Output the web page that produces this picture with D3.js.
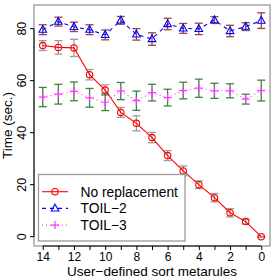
<!DOCTYPE html>
<html>
<head>
<meta charset="utf-8">
<script src="https://cdn.jsdelivr.net/npm/d3@7"></script>
<style>
  body { margin: 0; background: #fff; }
  text { font-family: "Liberation Sans", Arial, sans-serif; }
</style>
</head>
<body>
<svg id="chart" width="274" height="280"></svg>
<script>
/** x positions: number of user-defined sort metarules */
var metarules = [14, 13, 12, 11, 10, 9, 8, 7, 6, 5, 4, 3, 2, 1, 0];

/** No replacement: mean time and error */
var noReplMean = [73.5, 72.8, 72.6, 62.3, 56.4, 47.8, 43.6, 38.1, 31.2, 25.3, 20.0, 15.0, 9.2, 5.8, 0.0];
var noReplErr  = [1.9, 2.6, 3.3, 2.0, 2.0, 1.9, 2.9, 2.0, 1.9, 1.9, 1.5, 1.6, 1.6, 0.9, 0.2];

/** TOIL-2 */
var toil2Mean = [79.6, 82.7, 80.7, 79.6, 77.6, 83.2, 77.8, 76.0, 81.8, 80.1, 79.9, 83.3, 79.1, 80.8, 83.1];
var toil2Err  = [1.9, 1.7, 1.8, 1.9, 1.9, 1.5, 2.2, 2.4, 2.2, 1.9, 2.2, 1.3, 2.2, 1.5, 3.0];

/** TOIL-3 */
var toil3Mean = [53.7, 54.8, 55.9, 53.4, 51.7, 56.0, 52.3, 55.4, 53.5, 56.2, 57.1, 56.1, 56.1, 52.9, 56.2];
var toil3Err  = [3.7, 3.8, 3.6, 3.6, 3.2, 3.3, 3.7, 3.2, 3.2, 3.2, 3.5, 2.9, 2.7, 1.9, 4.0];

var yTicks = [0, 20, 40, 60, 80];
var xTickLabels = [14, 12, 10, 8, 6, 4, 2, 0];

var seriesNames = ['No replacement', 'TOIL\u22122', 'TOIL\u22123'];

var plotLeft = 34, plotRight = 270, plotTop = 5, plotBottom = 246;

var svg = d3.select('#chart');

var x = d3.scaleLinear().domain([14.56, -0.56]).range([plotLeft, plotRight]);
var y = d3.scaleLinear().domain([-3.58, 89.1]).range([plotBottom, plotTop]);

function rows(means, errs) {
    return metarules.map(function (m, i) {
        return { x: m, y: means[i], e: errs[i] };
    });
}

var series = [
    { name: seriesNames[0], data: rows(noReplMean, noReplErr), color: 'red', errColor: '#8c8c8c', dash: null, shape: 'circle' },
    { name: seriesNames[1], data: rows(toil2Mean, toil2Err), color: 'blue', errColor: '#8b2323', dash: '4,4', shape: 'triangle' },
    { name: seriesNames[2], data: rows(toil3Mean, toil3Err), color: '#ff33ff', errColor: '#1e6e1e', dash: '1,3', shape: 'plus' }
];

// plot box
svg.append('rect')
    .attr('x', plotLeft).attr('y', plotTop)
    .attr('width', plotRight - plotLeft).attr('height', plotBottom - plotTop)
    .attr('fill', 'none').attr('stroke', '#9a9a9a').attr('stroke-width', 1.3);

// axes
var xAxis = d3.axisBottom(x)
    .tickValues(metarules)
    .tickSize(4)
    .tickFormat(function (d) { return xTickLabels.indexOf(d) >= 0 ? d : ''; });

var gx = svg.append('g')
    .attr('transform', 'translate(0,' + plotBottom + ')')
    .call(xAxis);
gx.select('.domain').attr('d', 'M' + x(14) + ',0H' + x(0)).attr('stroke', '#000');
gx.selectAll('text').attr('font-size', '12px').attr('y', 6.5).attr('fill', '#000');

var yAxis = d3.axisLeft(y).tickValues(yTicks).tickSize(4);
var gy = svg.append('g')
    .attr('transform', 'translate(' + plotLeft + ',0)')
    .call(yAxis);
gy.select('.domain').attr('d', 'M0,' + y(0) + 'V' + y(80)).attr('stroke', '#000');
gy.selectAll('text')
    .attr('font-size', '12.5px')
    .attr('x', 0).attr('dy', 0)
    .attr('text-anchor', 'middle')
    .attr('transform', function (d) { return 'translate(-8,' + y(d) + ') rotate(-90)'; });
gy.selectAll('.tick').attr('transform', null);
gy.selectAll('.tick line').attr('x2', -4).attr('y1', function (d) { return y(d); }).attr('y2', function (d) { return y(d); });

// axis titles
svg.append('text')
    .attr('x', (plotLeft + plotRight) / 2).attr('y', 275.5)
    .attr('text-anchor', 'middle').attr('font-size', '13.5px')
    .text('User\u2212defined sort metarules');

svg.append('text')
    .attr('transform', 'translate(11.5,' + (plotTop + plotBottom) / 2 + ') rotate(-90)')
    .attr('text-anchor', 'middle').attr('font-size', '13.5px')
    .text('Time (sec.)');

var line = d3.line().x(function (d) { return x(d.x); }).y(function (d) { return y(d.y); });

function drawShape(g, shape, color) {
    if (shape === 'circle') {
        g.append('circle').attr('r', 3.2).attr('fill', 'none').attr('stroke', color).attr('stroke-width', 1.1);
    } else if (shape === 'triangle') {
        g.append('path').attr('d', 'M0,-4.2L3.8,2.6L-3.8,2.6Z').attr('fill', 'none').attr('stroke', color).attr('stroke-width', 1.1);
    } else {
        g.append('path').attr('d', 'M-4,0H4M0,-4V4').attr('stroke', color).attr('stroke-width', 1.2);
    }
}

series.forEach(function (s) {
    // error bars
    var eb = svg.append('g').selectAll('g').data(s.data).enter().append('g')
        .attr('stroke', s.errColor).attr('stroke-width', 1.3).attr('opacity', 0.85);
    eb.append('line')
        .attr('x1', function (d) { return x(d.x); }).attr('x2', function (d) { return x(d.x); })
        .attr('y1', function (d) { return y(d.y - d.e); }).attr('y2', function (d) { return y(d.y + d.e); });
    eb.append('line')
        .attr('x1', function (d) { return x(d.x) - 4; }).attr('x2', function (d) { return x(d.x) + 4; })
        .attr('y1', function (d) { return y(d.y - d.e); }).attr('y2', function (d) { return y(d.y - d.e); });
    eb.append('line')
        .attr('x1', function (d) { return x(d.x) - 4; }).attr('x2', function (d) { return x(d.x) + 4; })
        .attr('y1', function (d) { return y(d.y + d.e); }).attr('y2', function (d) { return y(d.y + d.e); });
});

series.forEach(function (s) {
    svg.append('path').datum(s.data)
        .attr('d', line)
        .attr('fill', 'none').attr('stroke', s.color).attr('stroke-width', 1.1)
        .attr('stroke-dasharray', s.dash);
    svg.append('g').selectAll('g').data(s.data).enter().append('g')
        .attr('transform', function (d) { return 'translate(' + x(d.x) + ',' + y(d.y) + ')'; })
        .each(function () { drawShape(d3.select(this), s.shape, s.color); });
});

// legend
var legend = svg.append('g');
legend.append('rect')
    .attr('x', 38.5).attr('y', 174.5).attr('width', 146.5).attr('height', 66.5)
    .attr('fill', '#fff').attr('stroke', '#9a9a9a').attr('stroke-width', 1.3);

series.forEach(function (s, i) {
    var ly = 191.7 + i * 16.7;
    legend.append('line')
        .attr('x1', 42).attr('x2', 68).attr('y1', ly).attr('y2', ly)
        .attr('stroke', s.color).attr('stroke-width', 1.1)
        .attr('stroke-dasharray', s.dash);
    drawShape(legend.append('g').attr('transform', 'translate(55,' + ly + ')'), s.shape, s.color);
    legend.append('text')
        .attr('x', 80.5).attr('y', ly).attr('dy', '0.36em')
        .attr('font-size', '13.8px')
        .text(s.name);
});
</script>
</body>
</html>
